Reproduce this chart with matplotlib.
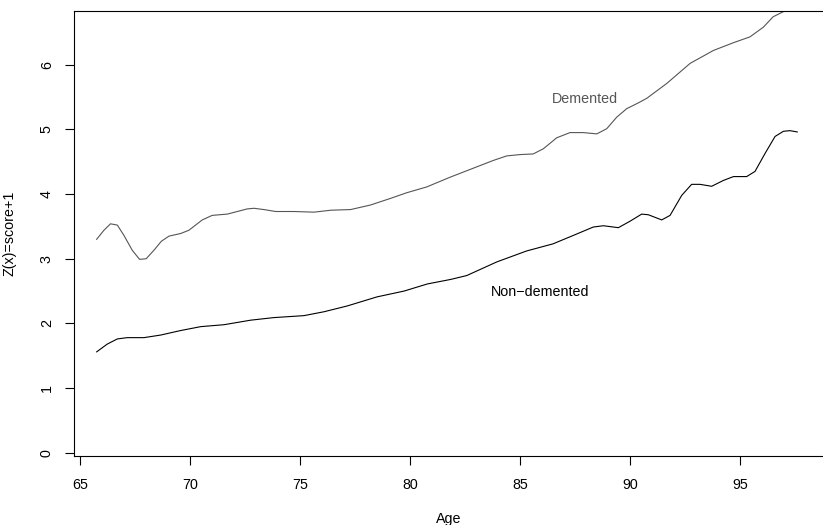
import numpy as np
import matplotlib
matplotlib.use("Agg")
import matplotlib.pyplot as plt

plt.rcParams['font.family'] = ['Liberation Sans', 'DejaVu Sans']

# smoothed curves
dem_age = [65.76, 66.09, 66.39, 66.7, 67.0, 67.38, 67.71, 68.01, 68.36, 68.7,
           69.05, 69.58, 69.95, 70.56, 71.01, 71.7, 72.15, 72.6, 72.91, 73.36,
           73.9, 74.73, 75.64, 76.4, 77.3, 78.2, 79.09, 79.85, 80.76, 81.82,
           82.88, 83.79, 84.4, 85.0, 85.6, 86.06, 86.67, 87.27, 87.88, 88.49,
           88.94, 89.4, 89.85, 90.38, 90.76, 91.67, 92.73, 93.79, 94.7, 95.45,
           96.06, 96.5, 96.97, 97.7]
dem_z = [3.30, 3.44, 3.54, 3.52, 3.36, 3.13, 2.99, 3.00, 3.13, 3.27,
         3.35, 3.39, 3.44, 3.60, 3.67, 3.69, 3.73, 3.77, 3.78, 3.76,
         3.73, 3.73, 3.72, 3.75, 3.76, 3.83, 3.93, 4.02, 4.11, 4.26,
         4.40, 4.52, 4.59, 4.61, 4.62, 4.70, 4.87, 4.95, 4.95, 4.93,
         5.01, 5.19, 5.32, 5.41, 5.48, 5.71, 6.02, 6.22, 6.34, 6.43,
         6.58, 6.74, 6.82, 6.95]

non_age = [65.76, 66.24, 66.7, 67.15, 67.91, 68.67, 69.58, 70.49, 71.55, 72.76,
           73.82, 75.18, 76.09, 77.15, 78.5, 79.73, 80.79, 81.85, 82.58, 83.94,
           85.3, 86.5, 87.42, 88.33, 88.79, 89.47, 90.0, 90.53, 90.83, 91.44,
           91.82, 92.35, 92.8, 93.18, 93.71, 94.24, 94.7, 95.3, 95.68, 96.14,
           96.59, 96.97, 97.27, 97.6]
non_z = [1.56, 1.68, 1.76, 1.78, 1.78, 1.82, 1.89, 1.95, 1.98, 2.05,
         2.09, 2.12, 2.18, 2.27, 2.41, 2.50, 2.61, 2.68, 2.74, 2.95,
         3.12, 3.23, 3.36, 3.49, 3.51, 3.48, 3.58, 3.69, 3.68, 3.60,
         3.67, 3.98, 4.15, 4.15, 4.12, 4.21, 4.27, 4.27, 4.35, 4.63,
         4.89, 4.97, 4.98, 4.96]

fs = 10.3

fig = plt.figure(figsize=(8.23, 5.25), dpi=100)
ax = fig.add_axes([74 / 823, 1 - 456 / 525, 1 - 74 / 823, (456 - 11) / 525])

ax.plot(dem_age, dem_z, color='#555555', lw=0.8)
ax.plot(non_age, non_z, color='black', lw=0.8)

ax.text(87.95, 5.47, 'Demented', color='#555555', fontsize=fs, ha='center', va='center')
ax.text(85.9, 2.48, 'Non\u2212demented', color='black', fontsize=fs, ha='center', va='center')

ax.set_xlim(64.73, 98.77)
ax.set_ylim(-0.05, 6.83)
ax.set_xticks([65, 70, 75, 80, 85, 90, 95])
ax.set_yticks([0, 1, 2, 3, 4, 5, 6])
ax.tick_params(axis='x', length=6.5, width=0.8, pad=9, labelsize=fs)
ax.tick_params(axis='y', length=6.5, width=0.8, pad=8, labelsize=fs, labelrotation=90)
for lbl in ax.get_yticklabels():
    lbl.set_va('center')

ax.spines.right.set_visible(False)
for s in ['left', 'bottom', 'top']:
    ax.spines[s].set_linewidth(0.8)

ax.set_xlabel('Age', fontsize=fs, labelpad=15)
ax.set_ylabel('Z(x)=score+1', fontsize=fs, labelpad=17)

fig.savefig('out.png', dpi=100)
